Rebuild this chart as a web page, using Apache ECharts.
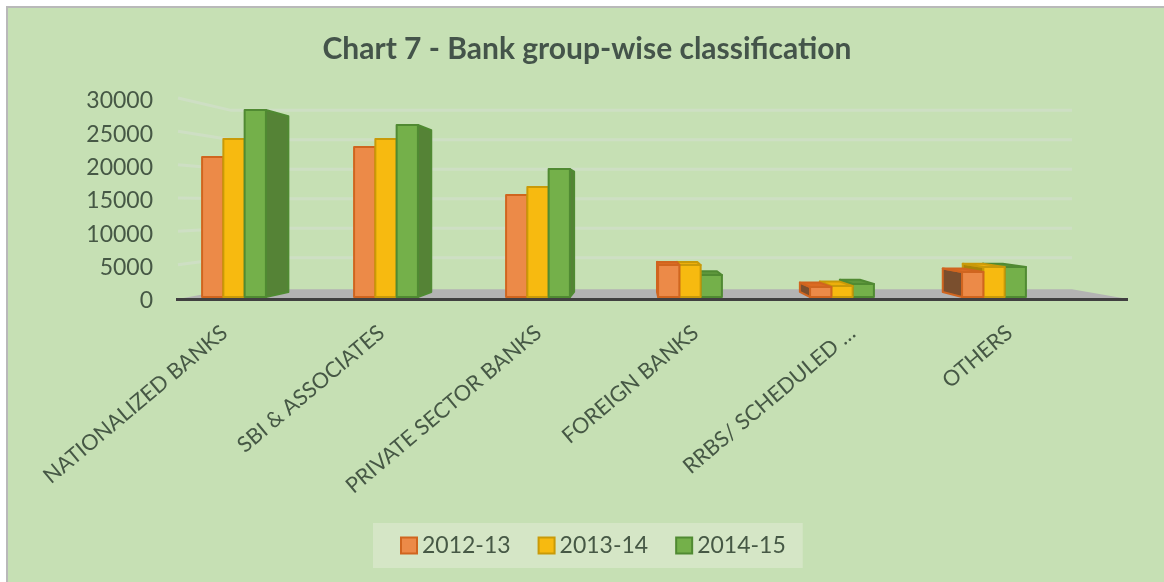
<!DOCTYPE html>
<html><head><meta charset="utf-8">
<style>html,body{margin:0;padding:0;background:#fff}#c{width:1164px;height:582px}</style>
<script src="https://cdn.jsdelivr.net/npm/echarts@6/dist/echarts.min.js"></script>
</head><body><div id="c"></div>
<script>
const categories = ['NATIONALIZED BANKS','SBI & ASSOCIATES','PRIVATE SECTOR BANKS','FOREIGN BANKS','RRBS/ SCHEDULED …','OTHERS'];
const years = ['2012-13','2013-14','2014-15'];
const values2012 = [21000,22500,15300,4800,1500,3750];
const values2013 = [23700,23700,16500,4800,1650,4500];
const values2014 = [28050,25800,19200,3300,1950,4500];
const yTicks = [0,5000,10000,15000,20000,25000,30000];
const seriesValues = [values2012,values2013,values2014];
const palette = [
  {front:'#EC8A48',edge:'#D0651F',side:'#7A4F2E',top:'#DB6B22'},
  {front:'#F7BA10',edge:'#C99A08',side:'#A98306',top:'#EDAF0C'},
  {front:'#74B04A',edge:'#508A32',side:'#558336',top:'#5E973C'}
];
const VX=640, VY=213, K=0.94;
const textColor='#465845', fontFam='Lato,"Open Sans",sans-serif';
const project=p=>[VX+(p[0]-VX)*K, VY+(p[1]-VY)*K];
function renderBar(si){
  return function(params,api){
    const cat=api.value(0), val=api.value(1);
    const top=api.coord([cat,val]), base=api.coord([cat,0]);
    const band=api.size([1,0])[0], w=band*0.14;
    const x0=top[0]+(si-1.5)*w, x1=x0+w;
    const a=[x0,top[1]], b=[x1,top[1]], c=[x1,base[1]], d=[x0,base[1]];
    const A=project(a),B=project(b),C=project(c),D=project(d);
    const p=palette[si];
    const left=top[0]<VX-60;
    const z=left?si:-si;
    const st=(fill,edge)=>({fill:fill,stroke:edge,lineWidth:2,lineJoin:'round'});
    const kids=[];
    if(x1<VX) kids.push({type:'polygon',z2:z,shape:{points:[b,B,C,c]},style:st(p.side,p.edge)});
    if(x0>VX) kids.push({type:'polygon',z2:z,shape:{points:[a,A,D,d]},style:st(p.side,p.edge)});
    if(top[1]>VY) kids.push({type:'polygon',z2:z,shape:{points:[a,b,B,A]},style:st(p.top,p.edge)});
    kids.push({type:'polygon',z2:z+0.5,shape:{points:[a,b,c,d]},style:st(p.front,p.edge)});
    return {type:'group',children:kids};
  };
}
function renderGrid(params,api){
  const v=api.value(0);
  const f=api.coord([0,v]);
  const yB=VY+(f[1]-VY)*0.885;
  const xL=178,xB=231,xR=1072;
  if(v===0) return {type:'group',children:[
    {type:'polygon',z2:-20,shape:{points:[[xB,yB+2],[xR,yB+2],[1128,f[1]+2],[178,f[1]+2]]},style:{fill:'#B3B3B3'}},
    {type:'line',z2:30,shape:{x1:176,y1:f[1]+2.5,x2:1128,y2:f[1]+2.5},style:{stroke:'#404040',lineWidth:3}}
  ]};
  return {type:'polyline',z2:-30,shape:{points:[[xL,f[1]+1],[xB,yB],[xR,yB]]},style:{fill:'none',stroke:'#CEDFC4',lineWidth:3}};
}
const chart=echarts.init(document.getElementById('c'),null,{renderer:'canvas'});
chart.setOption({
  animation:false,
  backgroundColor:'#fff',
  graphic:[{type:'rect',z:-100,silent:true,shape:{x:7,y:7,width:1170,height:590},style:{fill:'#C6E0B4',stroke:'#B9B9B9',lineWidth:2}}],
  title:{text:'Chart 7 - Bank group-wise classification',left:582,top:29,textAlign:'center',
    textStyle:{fontFamily:fontFam,fontWeight:'bold',fontSize:30,color:'#44544A'}},
  grid:[{left:158,top:97,width:912,height:200},{left:159,top:101,width:942,height:200}],
  xAxis:[
    {type:'category',data:categories,gridIndex:0,axisLine:{show:false},axisTick:{show:false},axisLabel:{show:false}},
    {type:'category',data:categories,gridIndex:1,axisLine:{show:false},axisTick:{show:false},
      axisLabel:{rotate:40,interval:0,margin:18,padding:[0,17,0,0],fontFamily:fontFam,fontSize:21.6,color:textColor}}
  ],
  yAxis:[
    {type:'value',gridIndex:0,min:0,max:30000,interval:5000,splitLine:{show:false},axisLine:{show:false},axisTick:{show:false},axisLabel:{show:false}},
    {type:'value',gridIndex:1,min:0,max:30000,interval:5000,splitLine:{show:false},axisLine:{show:false},axisTick:{show:false},
      axisLabel:{margin:6,formatter:v=>String(v),fontFamily:fontFam,fontSize:23,color:textColor}}
  ],
  legend:{data:years,left:373,top:523,width:430,height:45,padding:[11,17,11,27],itemGap:27,itemWidth:16,itemHeight:16,
    backgroundColor:'#D5E6C6',icon:'rect',textStyle:{fontFamily:fontFam,fontSize:23,color:textColor}},
  series:[
    {type:'custom',name:'grid',silent:true,coordinateSystem:'cartesian2d',clip:false,data:yTicks.map(v=>[v]),encode:{x:-1,y:0},renderItem:renderGrid,z:1}
  ].concat(years.map((y,i)=>({
    type:'custom',name:y,coordinateSystem:'cartesian2d',clip:false,z:2,
    itemStyle:{color:palette[i].front,borderColor:palette[i].edge,borderWidth:2},
    data:seriesValues[i].map((v,c)=>[c,v]),encode:{x:0,y:1},renderItem:renderBar(i)
  })))
});
</script></body></html>
